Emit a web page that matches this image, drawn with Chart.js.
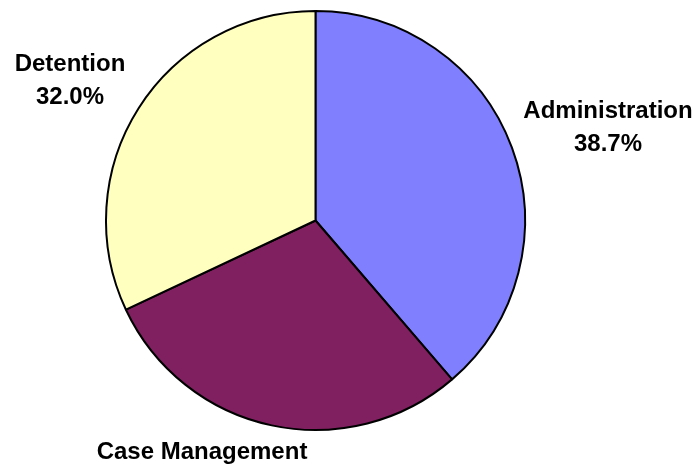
<!DOCTYPE html>
<html>
<head>
<meta charset="utf-8">
<script src="https://cdn.jsdelivr.net/npm/chart.js@4/dist/chart.umd.min.js"></script>
<style>
  html, body { margin: 0; padding: 0; background: #fff; }
  canvas { display: block; }
</style>
</head>
<body>
<canvas id="pie" width="700" height="470"></canvas>
<script>
// slice data, clockwise from 12 o'clock
const categories = ['Administration', 'Case Management', 'Detention'];
const shares = [38.7, 29.3, 32.0];
const sliceColors = ['#8080FF', '#802060', '#FFFFC0'];

// where each outside label sits (centre of first line)
const labelSpots = [
    { x: 608, y: 111 },
    { x: 202, y: 452 },
    { x: 70, y: 64 }
];

const outsideLabels = {
    id: 'outsideLabels',
    afterDraw(chart) {
        const ctx = chart.ctx;
        ctx.save();
        ctx.fillStyle = '#000';
        ctx.font = 'bold 24px "Liberation Sans", Arial, sans-serif';
        ctx.textAlign = 'center';
        ctx.textBaseline = 'middle';
        chart.data.labels.forEach((name, i) => {
            const spot = labelSpots[i];
            const pct = chart.data.datasets[0].data[i].toFixed(1) + '%';
            ctx.fillText(name, spot.x, spot.y);
            ctx.fillText(pct, spot.x, spot.y + 33);
        });
        ctx.restore();
    }
};

new Chart(document.getElementById('pie').getContext('2d'), {
    type: 'pie',
    data: {
        labels: categories,
        datasets: [{
            data: shares,
            backgroundColor: sliceColors,
            borderColor: '#000',
            borderWidth: 2
        }]
    },
    options: {
        responsive: false,
        animation: false,
        layout: {
            padding: { top: 10, bottom: 39, left: 0, right: 69 }
        },
        plugins: {
            legend: { display: false },
            tooltip: { enabled: false }
        }
    },
    plugins: [outsideLabels]
});
</script>
</body>
</html>
